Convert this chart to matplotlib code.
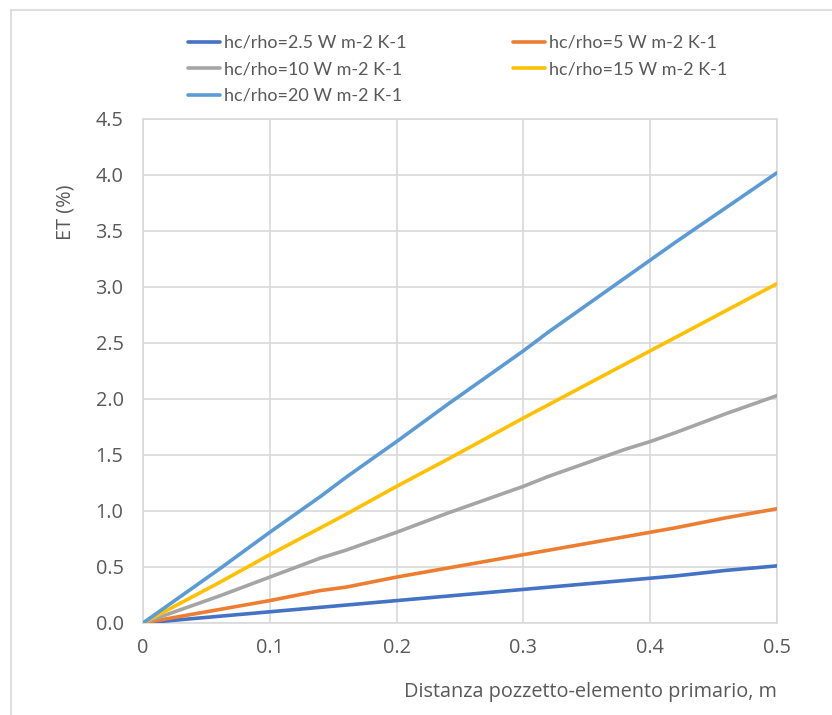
import matplotlib
matplotlib.use("Agg")
import matplotlib.pyplot as plt
from matplotlib.lines import Line2D

# Distance between well and primary element (m)
distance = [0, 0.06, 0.10, 0.14, 0.16, 0.20, 0.24, 0.30, 0.32, 0.36, 0.38, 0.40, 0.42, 0.46, 0.50]

# ET (%) for each hc/rho value
et_2_5 = [0, 0.06, 0.10, 0.14, 0.16, 0.20, 0.24, 0.30, 0.32, 0.36, 0.38, 0.40, 0.42, 0.47, 0.51]
et_5 = [0, 0.12, 0.20, 0.29, 0.32, 0.41, 0.49, 0.61, 0.65, 0.73, 0.77, 0.81, 0.85, 0.94, 1.02]
et_10 = [0, 0.24, 0.41, 0.58, 0.65, 0.81, 0.98, 1.22, 1.31, 1.47, 1.55, 1.62, 1.70, 1.87, 2.03]
et_15 = [0, 0.36, 0.61, 0.85, 0.97, 1.22, 1.46, 1.83, 1.95, 2.19, 2.31, 2.43, 2.55, 2.79, 3.03]
et_20 = [0, 0.48, 0.81, 1.13, 1.30, 1.62, 1.95, 2.43, 2.60, 2.92, 3.08, 3.24, 3.40, 3.71, 4.02]

labels = ["hc/rho=2.5 W m-2 K-1", "hc/rho=5 W m-2 K-1", "hc/rho=10 W m-2 K-1",
          "hc/rho=15 W m-2 K-1", "hc/rho=20 W m-2 K-1"]
colors = ["#4472C4", "#ED7D31", "#A5A5A5", "#FFC000", "#5B9BD5"]
series = [et_2_5, et_5, et_10, et_15, et_20]

x_ticks = [0, 0.1, 0.2, 0.3, 0.4, 0.5]
x_tick_labels = ["0", "0.1", "0.2", "0.3", "0.4", "0.5"]
y_ticks = [0.0, 0.5, 1.0, 1.5, 2.0, 2.5, 3.0, 3.5, 4.0, 4.5]

W, H = 832, 715
fig = plt.figure(figsize=(W / 100, H / 100), dpi=100)
ax = fig.add_axes([143 / W, (H - 623) / H, (777 - 143) / W, (623 - 119) / H])

text_color = "#595959"
grid_color = "#D9D9D9"
tick_font = "Open Sans"
fs = 14.3

handles = []
for vals, lab, col in zip(series, labels, colors):
    h, = ax.plot(distance, vals, color=col, lw=2.6, solid_capstyle="round", label=lab, zorder=3)
    handles.append(h)

ax.set_xlim(0, 0.5)
ax.set_ylim(0, 4.5)
ax.set_xticks(x_ticks)
ax.set_xticklabels(x_tick_labels)
ax.set_yticks(y_ticks)
ax.set_yticklabels([f"{v:.1f}" for v in y_ticks])
ax.grid(True, color=grid_color, lw=1.2, zorder=0)
for s in ax.spines.values():
    s.set_color(grid_color)
    s.set_linewidth(1.2)
ax.tick_params(length=0, labelsize=fs, labelcolor=text_color)
ax.tick_params(axis="x", pad=11)
ax.tick_params(axis="y", pad=14)
for lbl in ax.get_xticklabels() + ax.get_yticklabels():
    lbl.set_fontfamily(tick_font)

fig.text(65 / W, 1 - 212 / H, "ET (%)", rotation=90, ha="center", va="center",
         fontsize=fs, color=text_color, family=tick_font)
fig.text(777 / W, 1 - 692 / H, "Distanza pozzetto-elemento primario, m", ha="right",
         va="center", fontsize=fs, color=text_color, family=tick_font)

# Legend laid out row-wise in two columns
order = [0, 2, 4, 1, 3]
leg = fig.legend([handles[i] for i in order], [labels[i] for i in order],
                 ncol=2, loc="upper left", bbox_to_anchor=(188 / W, 1 - 35 / H),
                 frameon=False, handlelength=1.75, handletextpad=0.25,
                 labelspacing=0.58, columnspacing=5.9, borderaxespad=0, borderpad=0,
                 prop={"family": "Lato", "size": 13})
for t in leg.get_texts():
    t.set_color(text_color)

# Outer chart border (left and top edges)
fig.add_artist(Line2D([11 / W, 11 / W], [0, 1 - 10 / H], transform=fig.transFigure,
                      color="#D9D9D9", lw=1.2))
fig.add_artist(Line2D([11 / W, 1], [1 - 10 / H, 1 - 10 / H], transform=fig.transFigure,
                      color="#D9D9D9", lw=1.2))

fig.savefig("out.png", dpi=100, facecolor="white")
